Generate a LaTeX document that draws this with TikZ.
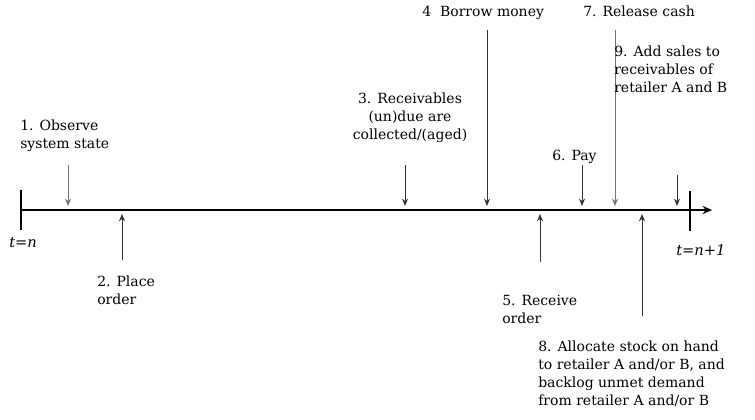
\documentclass[tikz,border=0pt]{standalone}
\usepackage{fontspec}
\setmainfont{DejaVu Serif}
\usetikzlibrary{arrows.meta}
\begin{document}
\begin{tikzpicture}[x=0.75pt,y=-0.75pt,
  evt/.style={draw=black!55,line width=0.7pt,-{Stealth[length=5.5pt,width=4.5pt]}},
  evtdark/.style={draw=black!80,line width=0.7pt,-{Stealth[length=5.5pt,width=4.5pt]}},
  lbl/.style={font=\fontsize{10.5}{13.5}\selectfont,align=left,inner sep=0pt},
  tlbl/.style={font=\fontsize{11}{13}\selectfont\itshape,inner sep=0pt}]
\useasboundingbox (0,0) rectangle (755,420);

% time axis with period boundaries
\coordinate (a0) at (20,210);
\coordinate (a1) at (712,210);
\draw[line width=1.2pt,-{Stealth[length=7pt,width=6pt]}] (a0) -- (a1);
\draw[line width=1.2pt] (21,190) coordinate (l0) -- (21,230) coordinate (l1);
\draw[line width=1.2pt] (690,191) coordinate (r0) -- (690,231) coordinate (r1);
\node[tlbl,anchor=west] (tn) at (9,243) {t=n};
\node[tlbl,anchor=west] (tn1) at (676,250) {t=n+1};

% arrow endpoints
\coordinate (s1) at (68,165);  \coordinate (e1) at (68,206);
\coordinate (s2) at (122,260); \coordinate (e2) at (122,214);
\coordinate (s3) at (405,165); \coordinate (e3) at (405,206);
\coordinate (s4) at (487,30);  \coordinate (e4) at (487,206);
\coordinate (s5) at (540,262); \coordinate (e5) at (540,214);
\coordinate (s6) at (582,165); \coordinate (e6) at (582,206);
\coordinate (s7) at (615,30);  \coordinate (e7) at (615,206);
\coordinate (s8) at (642,316); \coordinate (e8) at (642,214);
\coordinate (s9) at (677,175); \coordinate (e9) at (677,206);

\draw[evt] (s1) -- (e1);
\draw[evtdark] (s2) -- (e2);
\draw[evtdark] (s3) -- (e3);
\draw[evtdark] (s4) -- (e4);
\draw[evtdark] (s5) -- (e5);
\draw[evtdark] (s6) -- (e6);
\draw[evt] (s7) -- (e7);
\draw[evtdark] (s8) -- (e8);
\draw[evtdark] (s9) -- (e9);

% event labels
\node[lbl,anchor=north west] (n1) at (20,120) {1. Observe\\system state};
\node[lbl,anchor=north west] (n2) at (97,276) {2. Place\\order};
\node[lbl,anchor=north,align=center] (n3) at (410,93) {3. Receivables\\(un)due are\\collected/(aged)};
\node[lbl,anchor=north west] (n4) at (422,6) {4\ \ Borrow money};
\node[lbl,anchor=north west] (n5) at (502,295) {5. Receive\\order};
\node[lbl,anchor=north west] (n6) at (552,150) {6. Pay};
\node[lbl,anchor=north west] (n7) at (583,6) {7. Release cash};
\node[lbl,anchor=north west] (n8) at (538,341) {8. Allocate stock on hand\\to retailer A and/or B, and\\backlog unmet demand\\from retailer A and/or B};
\node[lbl,anchor=north west] (n9) at (614,46) {9. Add sales to\\receivables of\\retailer A and B};
\end{tikzpicture}
\end{document}
